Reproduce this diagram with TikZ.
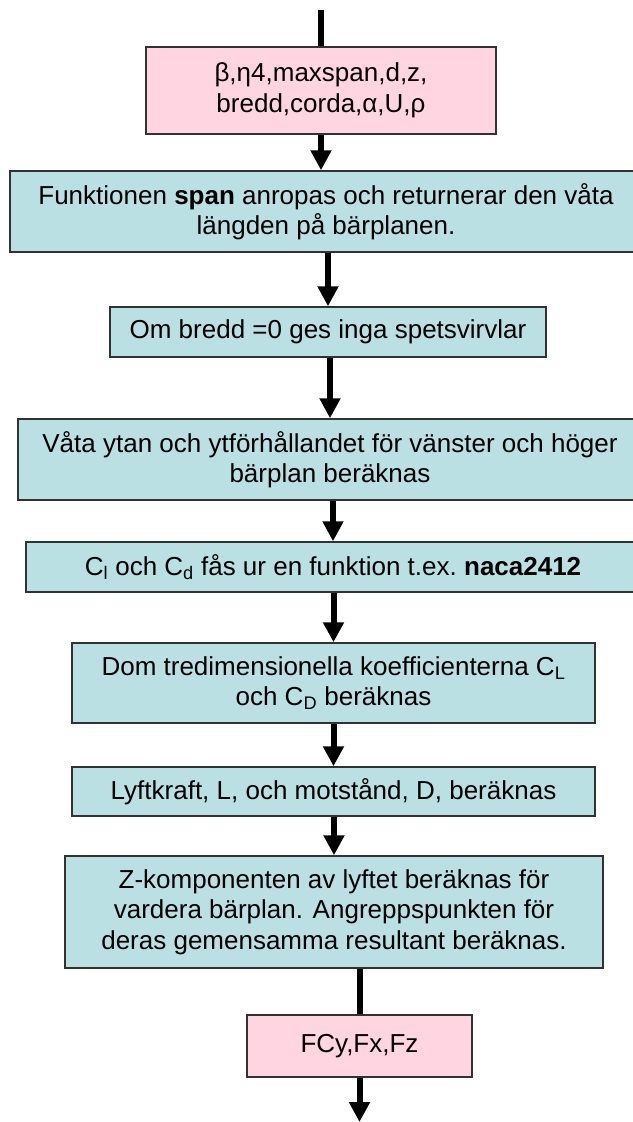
\documentclass[tikz,border=0pt]{standalone}
\usepackage{fontspec}
\setmainfont{Liberation Sans}
\usetikzlibrary{arrows.meta}
\definecolor{boxpink}{RGB}{255,213,226}
\definecolor{boxblue}{RGB}{187,224,227}
\definecolor{boxline}{RGB}{50,50,50}
\begin{document}
\begin{tikzpicture}[x=1pt,y=-1pt,
  basebox/.style={draw=boxline, line width=1.5pt, rectangle, inner sep=0pt, align=center,
    font=\fontsize{26}{30.5}\selectfont},
  pinkbox/.style={basebox, fill=boxpink},
  bluebox/.style={basebox, fill=boxblue},
  conn/.style={line width=6pt, draw=black},
  arr/.style={conn, -{Triangle[width=20pt,length=20pt]}}]
\useasboundingbox (0,0) rectangle (632,1122);
\fill[white] (0,0) rectangle (632,1122);

\node[pinkbox, minimum width=350pt, minimum height=87pt] (b1) at (321,90.5)
  {β,η4,maxspan,d,z,\\bredd,corda,α,U,ρ};
\node[bluebox, minimum width=632pt, minimum height=81pt] (b2) at (326,211.5)
  {Funktionen \textbf{span} anropas och returnerar den våta\\längden på bärplanen.};
\node[bluebox, minimum width=436pt, minimum height=50pt] (b3) at (328,332)
  {Om bredd =0 ges inga spetsvirvlar};
\node[bluebox, minimum width=624pt, minimum height=81pt] (b4) at (330,459.5)
  {Våta ytan och ytförhållandet för vänster och höger\\bärplan beräknas};
\node[bluebox, minimum width=614pt, minimum height=50pt] (b5) at (333,567)
  {C\textsubscript{l} och C\textsubscript{d} fås ur en funktion t.ex.\ \textbf{naca2412}};
\node[bluebox, minimum width=523pt, minimum height=80pt] (b6) at (333.5,683)
  {Dom tredimensionella koefficienterna C\textsubscript{L}\\och C\textsubscript{D} beräknas};
\node[bluebox, minimum width=523pt, minimum height=49pt] (b7) at (333.5,791.5)
  {Lyftkraft, L, och motstånd, D, beräknas};
\node[bluebox, minimum width=538pt, minimum height=112pt] (b8) at (334,912)
  {Z-komponenten av lyftet beräknas för\\vardera bärplan. Angreppspunkten för\\deras gemensamma resultant beräknas.};
\node[pinkbox, minimum width=225pt, minimum height=62pt] (b9) at (359.5,1046)
  {FCy,Fx,Fz};

\coordinate (top) at (321,10);
\coordinate (bottom) at (359.5,1122);

\draw[conn] (top) -- (b1.north);
\draw[arr] (b1.south) -- (b1.south |- b2.north);
\draw[arr] (b3.north |- b2.south) -- (b3.north);
\draw[arr] (b4.north |- b3.south) -- (b4.north);
\draw[arr] (b5.north |- b4.south) -- (b5.north);
\draw[arr] (b6.north |- b5.south) -- (b6.north);
\draw[arr] (b7.north |- b6.south) -- (b7.north);
\draw[arr] (b8.north |- b7.south) -- (b8.north);
\draw[conn] (b9.north |- b8.south) -- (b9.north);
\draw[arr] (b9.south) -- (bottom);
\end{tikzpicture}
\end{document}
